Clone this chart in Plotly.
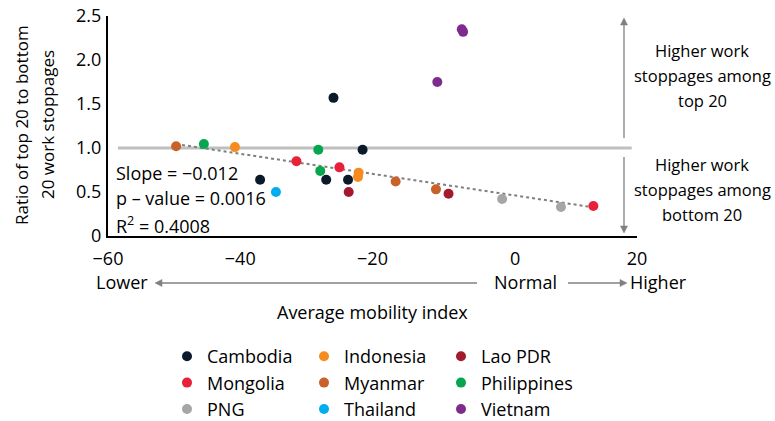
import math
import plotly.graph_objects as go

# ---------------- data ----------------
countries = ["Cambodia", "Indonesia", "Lao PDR", "Mongolia", "Myanmar",
             "Philippines", "PNG", "Thailand", "Vietnam"]
colors = ["#0b1a2b", "#f68b1f", "#a3192d", "#e8203a", "#c8622a",
          "#06a64f", "#a6a6a6", "#00aeef", "#7f2b8e"]

cambodia_x = [-25.9, -21.5, -37.0, -27.0, -23.7]
cambodia_y = [1.57, 0.98, 0.64, 0.64, 0.64]
indonesia_x = [-40.8, -22.1, -22.2]
indonesia_y = [1.01, 0.72, 0.67]
lao_x = [-23.6, -8.5]
lao_y = [0.50, 0.48]
mongolia_x = [-31.5, -25.0, 13.4]
mongolia_y = [0.85, 0.78, 0.34]
myanmar_x = [-49.7, -16.5, -10.4]
myanmar_y = [1.02, 0.62, 0.53]
philippines_x = [-45.5, -28.2, -27.9]
philippines_y = [1.045, 0.98, 0.74]
png_x = [-0.4, 8.5]
png_y = [0.42, 0.33]
thailand_x = [-34.6]
thailand_y = [0.50]
vietnam_x = [-6.5, -6.3, -10.2]
vietnam_y = [2.35, 2.32, 1.75]

series_x = [cambodia_x, indonesia_x, lao_x, mongolia_x, myanmar_x,
            philippines_x, png_x, thailand_x, vietnam_x]
series_y = [cambodia_y, indonesia_y, lao_y, mongolia_y, myanmar_y,
            philippines_y, png_y, thailand_y, vietnam_y]

trend_x = [-49.7, 13.0]
trend_y = [1.045, 0.33]

ref_x = [-58.5, 19.2]
ref_y = [1.0, 1.0]

x_tickvals = [-60, -40, -20, 0, 20]
x_ticktext = ["\u221260", "\u221240", "\u221220", "\u2007\u20070", "20"]
y_tickvals = [0, 0.5, 1.0, 1.5, 2.0, 2.5]
y_ticktext = ["0", "0.5", "1.0", "1.5", "2.0", "2.5"]

stats_lines = ["Slope = \u22120.012", "p \u2013 value = 0.0016", "R<sup>2</sup> = 0.4008"]
upper_lines = ["Higher work", "stoppages among", "top 20"]
lower_lines = ["Higher work", "stoppages among", "bottom 20"]
ytitle_lines = ["Ratio of top 20 to bottom", "20 work stoppages"]

FONT = "Open Sans"
W, H = 775, 421
L, R, T, B = 108, 637, 16, 236   # plot area in pixels
ARROW_COLOR = "#808080"


def px(xp):
    return (xp - L) / (R - L)


def py(yp):
    return (B - yp) / (B - T)


def arrow_shapes(x0, y0, x1, y1, head_len=7.0, head_half=3.5):
    """Line from tail (x0,y0) to head (x1,y1), in pixels, plus a triangular head."""
    dx, dy = x1 - x0, y1 - y0
    n = math.hypot(dx, dy)
    ux, uy = dx / n, dy / n
    bx, by = x1 - ux * head_len, y1 - uy * head_len
    pxv, pyv = -uy, ux
    p1 = (bx + pxv * head_half, by + pyv * head_half)
    p2 = (bx - pxv * head_half, by - pyv * head_half)
    line = dict(type="line", xref="paper", yref="paper",
                x0=px(x0), y0=py(y0), x1=px(bx), y1=py(by),
                line=dict(color=ARROW_COLOR, width=1.3), layer="above")
    path = "M {:.5f},{:.5f} L {:.5f},{:.5f} L {:.5f},{:.5f} Z".format(
        px(x1), py(y1), px(p1[0]), py(p1[1]), px(p2[0]), py(p2[1]))
    head = dict(type="path", xref="paper", yref="paper", path=path,
                fillcolor=ARROW_COLOR, line=dict(color=ARROW_COLOR, width=0.5),
                layer="above")
    return [line, head]


fig = go.Figure()

# reference line at 1.0
fig.add_trace(go.Scatter(x=ref_x, y=ref_y, mode="lines",
                         line=dict(color="#bfbfbf", width=3),
                         showlegend=False, hoverinfo="skip"))
# trend line
fig.add_trace(go.Scatter(x=trend_x, y=trend_y, mode="lines",
                         line=dict(color="#7f7f7f", width=2, dash="dot"),
                         showlegend=False, hoverinfo="skip"))

for name, col, xs, ys in zip(countries, colors, series_x, series_y):
    fig.add_trace(go.Scatter(x=xs, y=ys, mode="markers", name=name,
                             marker=dict(color=col, size=10, line=dict(width=0))))

ann = []
# y-axis title (two lines)
for line, xc in zip(ytitle_lines, [21, 47]):
    ann.append(dict(text=line, xref="paper", yref="paper", x=px(xc), y=py(125),
                    xanchor="center", yanchor="middle", textangle=-90,
                    showarrow=False, font=dict(size=17)))
# stats
for line, yc in zip(stats_lines, [173, 198, 225]):
    ann.append(dict(text=line, xref="paper", yref="paper", x=px(114), y=py(yc),
                    xanchor="left", yanchor="middle", showarrow=False,
                    font=dict(size=18)))
# right side texts
for line, yc in zip(upper_lines, [51, 75, 100]):
    ann.append(dict(text=line, xref="paper", yref="paper", x=px(702), y=py(yc),
                    xanchor="center", yanchor="middle", showarrow=False,
                    font=dict(size=16.5)))
for line, yc in zip(lower_lines, [164, 189, 214]):
    ann.append(dict(text=line, xref="paper", yref="paper", x=px(702), y=py(yc),
                    xanchor="center", yanchor="middle", showarrow=False,
                    font=dict(size=16.5)))
# below-axis labels
for txt, xc in [("Lower", 122), ("Normal", 525), ("Higher", 658)]:
    ann.append(dict(text=txt, xref="paper", yref="paper", x=px(xc), y=py(282),
                    xanchor="center", yanchor="middle", showarrow=False,
                    font=dict(size=18)))
ann.append(dict(text="Average mobility index", xref="paper", yref="paper",
                x=px(372), y=py(312), xanchor="center", yanchor="middle",
                showarrow=False, font=dict(size=18)))

shapes = []
shapes += arrow_shapes(624, 138, 624, 18)     # up: higher among top 20
shapes += arrow_shapes(624, 157, 624, 233)    # down: higher among bottom 20
shapes += arrow_shapes(477, 283, 155, 283)    # left: lower mobility
shapes += arrow_shapes(568, 283, 627, 283)    # right: higher mobility

fig.update_layout(
    width=W, height=H,
    margin=dict(l=L, r=W - R, t=T, b=H - B, autoexpand=False),
    paper_bgcolor="white", plot_bgcolor="white",
    font=dict(family=FONT, size=18, color="#000000"),
    showlegend=True,
    legend=dict(orientation="h", x=px(167), y=py(338), xanchor="left",
                yanchor="top", entrywidth=92, entrywidthmode="pixels",
                font=dict(size=18), traceorder="normal",
                bgcolor="rgba(0,0,0,0)", tracegroupgap=0),
    annotations=ann,
    shapes=shapes,
    xaxis=dict(range=[-60, 20], tickvals=x_tickvals, ticktext=x_ticktext,
               showgrid=False, zeroline=False, showline=True,
               linecolor="#000000", linewidth=2, ticks="",
               ticklabelstandoff=5, ticklabeloverflow="allow",
               tickfont=dict(size=18)),
    yaxis=dict(range=[0, 2.5], tickvals=y_tickvals, ticktext=y_ticktext,
               showgrid=False, zeroline=False, showline=True,
               linecolor="#000000", linewidth=2, ticks="",
               ticklabelstandoff=1, ticklabeloverflow="allow",
               tickfont=dict(size=18)),
)

fig.write_html("out.html",
               config={"displayModeBar": False},
               post_script="document.body.style.margin='0';"
                           "document.body.style.overflow='hidden';")
